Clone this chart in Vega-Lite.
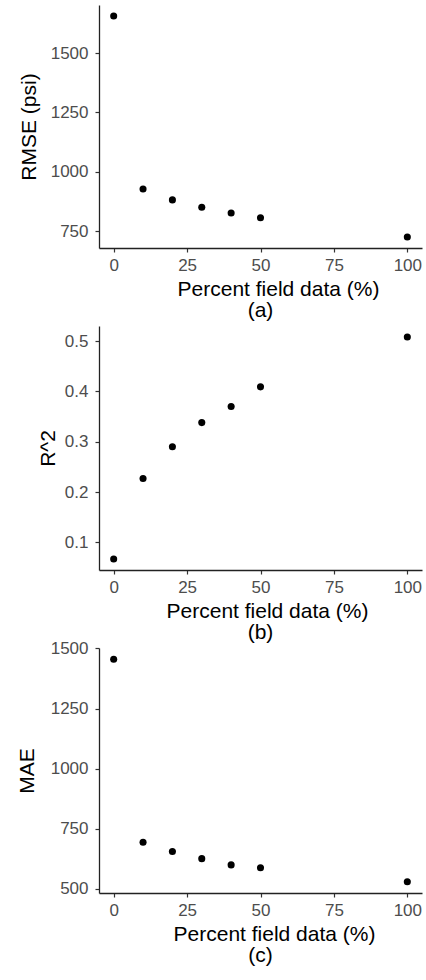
{
  "$schema": "https://vega.github.io/schema/vega-lite/v6.json",
  "padding": {"left": 16, "top": 5, "right": 4, "bottom": 5},
  "background": "white",
  "data": {"values": [
    {"pct": 0, "rmse": 1656, "r2": 0.067, "mae": 1455},
    {"pct": 10, "rmse": 928, "r2": 0.227, "mae": 693},
    {"pct": 20, "rmse": 882, "r2": 0.290, "mae": 655},
    {"pct": 30, "rmse": 851, "r2": 0.338, "mae": 625},
    {"pct": 40, "rmse": 827, "r2": 0.370, "mae": 599},
    {"pct": 50, "rmse": 807, "r2": 0.409, "mae": 587},
    {"pct": 100, "rmse": 726, "r2": 0.508, "mae": 529}
  ]},
  "config": {
    "view": {"stroke": null},
    "font": "Liberation Sans",
    "axis": {
      "grid": false,
      "domainColor": "#222222",
      "domainWidth": 1.3,
      "tickColor": "#333333",
      "tickSize": 4,
      "tickWidth": 1.2,
      "labelFont": "Liberation Sans",
      "labelFontSize": 17,
      "labelColor": "#4D4D4D",
      "labelPadding": 7,
      "titleFont": "Liberation Sans",
      "titleFontSize": 21,
      "titleFontWeight": "normal",
      "titleColor": "#000000"
    },
    "title": {"font": "Liberation Sans", "fontSize": 21, "fontWeight": "normal", "color": "#000000"}
  },
  "bounds": "flush",
  "spacing": 78,
  "vconcat": [
    {
      "width": 323, "height": 243,
      "title": {"text": "(a)", "orient": "bottom", "anchor": "middle", "frame": "group", "offset": 1},
      "mark": {"type": "point", "filled": true, "color": "#000000", "size": 50, "opacity": 1},
      "encoding": {
        "x": {"field": "pct", "type": "quantitative", "scale": {"domain": [-5, 105], "nice": false, "zero": false},
              "axis": {"values": [0, 25, 50, 75, 100], "format": "d", "labelPadding": 5, "title": "Percent field data (%)", "titleX": 179, "titleAlign": "center", "titlePadding": 5}},
        "y": {"field": "rmse", "type": "quantitative", "scale": {"domain": [679.5, 1702.5], "nice": false, "zero": false},
              "axis": {"values": [750, 1000, 1250, 1500], "format": "d", "title": "RMSE (psi)", "titlePadding": 11}}
      }
    },
    {
      "width": 323, "height": 244,
      "title": {"text": "(b)", "orient": "bottom", "anchor": "middle", "frame": "group", "offset": 1},
      "mark": {"type": "point", "filled": true, "color": "#000000", "size": 50, "opacity": 1},
      "encoding": {
        "x": {"field": "pct", "type": "quantitative", "scale": {"domain": [-5, 105], "nice": false, "zero": false},
              "axis": {"values": [0, 25, 50, 75, 100], "format": "d", "labelPadding": 5, "title": "Percent field data (%)", "titleX": 168, "titleAlign": "center", "titlePadding": 5}},
        "y": {"field": "r2", "type": "quantitative", "scale": {"domain": [0.045, 0.53], "nice": false, "zero": false},
              "axis": {"values": [0.1, 0.2, 0.3, 0.4, 0.5], "format": ".1f", "title": "R^2", "titlePadding": 6}}
      }
    },
    {
      "width": 323, "height": 245,
      "title": {"text": "(c)", "orient": "bottom", "anchor": "middle", "frame": "group", "offset": 1},
      "mark": {"type": "point", "filled": true, "color": "#000000", "size": 50, "opacity": 1},
      "encoding": {
        "x": {"field": "pct", "type": "quantitative", "scale": {"domain": [-5, 105], "nice": false, "zero": false},
              "axis": {"values": [0, 25, 50, 75, 100], "format": "d", "labelPadding": 5, "title": "Percent field data (%)", "titleX": 175, "titleAlign": "center", "titlePadding": 5}},
        "y": {"field": "mae", "type": "quantitative", "scale": {"domain": [482, 1502], "nice": false, "zero": false},
              "axis": {"values": [500, 750, 1000, 1250, 1500], "format": "d", "title": "MAE", "titlePadding": 13}}
      }
    }
  ]
}
